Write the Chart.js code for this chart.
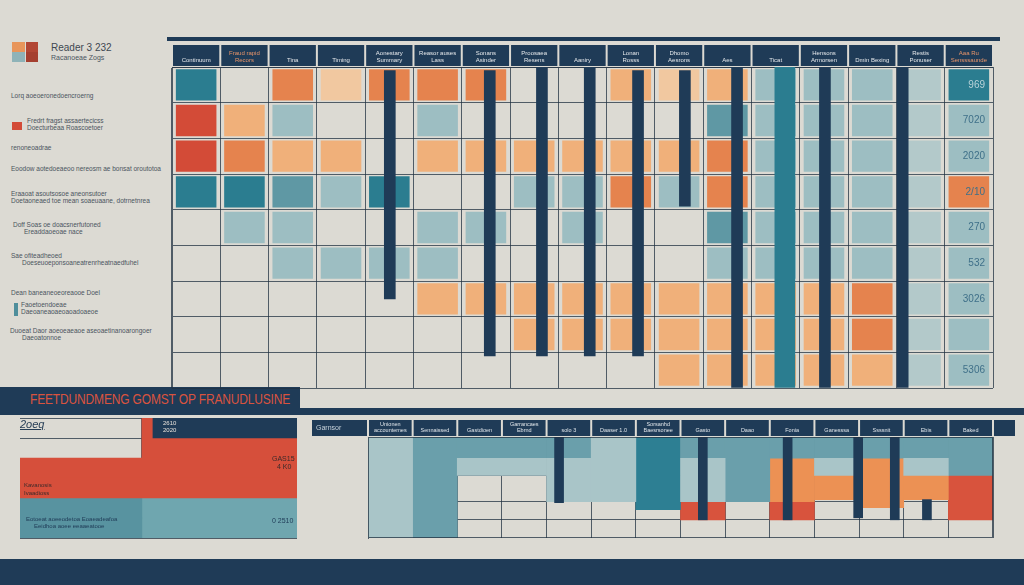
<!DOCTYPE html>
<html>
<head>
<meta charset="utf-8">
<title>Fraud Dashboard</title>
<script src="https://cdn.jsdelivr.net/npm/chart.js"></script>
<style>
  body { margin: 0; width: 1024px; height: 585px; background: #dcdad3; position: relative; overflow: hidden;
         font-family: "Liberation Sans", Arial, sans-serif; }
  .box { position: absolute; }
  .note { position: absolute; font-size: 6.5px; color: #4a545e; white-space: nowrap; }
  .navy { position: absolute; background: #1f3b57; }
</style>
</head>
<body>
<!-- left legend panel -->
<div class="box" style="left:12px;top:42px;width:13px;height:10px;background:#e8955a"></div>
<div class="box" style="left:26px;top:42px;width:12px;height:10px;background:#b24634"></div>
<div class="box" style="left:12px;top:52px;width:13px;height:10px;background:#8fb3b8"></div>
<div class="box" style="left:26px;top:52px;width:12px;height:10px;background:#a53f2f"></div>
<div class="note" style="left:51px;top:42px;font-size:10px;color:#3e4852">Reader 3 232</div>
<div class="note" style="left:51px;top:54px;font-size:7px">Racanoeae Zogs</div>
<div class="note" style="left:11px;top:92px">Lorq aoeoeronedoencroerng</div>
<div class="box" style="left:12px;top:122px;width:10px;height:8px;background:#d34b37"></div>
<div class="note" style="left:27px;top:117px">Fredrt fragst assaertecicss</div>
<div class="note" style="left:27px;top:124px">Doecturbeaa Roascoetoer</div>
<div class="note" style="left:11px;top:144px">renoneoadrae</div>
<div class="note" style="left:11px;top:165px">Eoodow aotedoeaeoo nereosm ae bonsat oroutotoa</div>
<div class="note" style="left:11px;top:190px">Eraaoat asoutsosoe aneonsutoer</div>
<div class="note" style="left:11px;top:197px">Doetaoneaed toe mean soaeuaane, dotrnetnrea</div>
<div class="note" style="left:13px;top:221px">Doff Soas oe doacsnerfutoned</div>
<div class="note" style="left:24px;top:228px">Ereaddaoeoae nace</div>
<div class="note" style="left:11px;top:252px">Sae ofiteadheoed</div>
<div class="note" style="left:22px;top:259px">Doeseuoeponsoaneatrenrheatnaedfuhel</div>
<div class="note" style="left:11px;top:289px">Dean baneaneoeoreaooe Doel</div>
<div class="box" style="left:14px;top:303px;width:4px;height:13px;background:#4f8e9b"></div>
<div class="note" style="left:21px;top:301px">Faoetoendoeae</div>
<div class="note" style="left:21px;top:308px">Daeoaneaoaeoaoadoaeoe</div>
<div class="note" style="left:10px;top:327px">Duoeat Daor aoeoeaeaoe aseoaetinanoarongoer</div>
<div class="note" style="left:22px;top:334px">Daeoatonnoe</div>

<!-- rules and title bars -->
<div class="navy" style="left:167px;top:37px;width:833px;height:4px"></div>
<div class="navy" style="left:0;top:387px;width:300px;height:22px"></div>
<div class="box" style="left:30px;top:390px;font-size:15px;color:#d9533f;white-space:nowrap;transform:scaleX(0.8);transform-origin:left top;letter-spacing:-0.2px">FEETDUNDMENG GOMST OP FRANUDLUSINE</div>
<div class="navy" style="left:0;top:408px;width:1024px;height:7px"></div>
<div class="navy" style="left:0;top:559px;width:1024px;height:26px"></div>

<!-- charts -->
<div class="box" style="left:165px;top:42px;width:835px;height:350px"><canvas id="topChart"></canvas></div>
<div class="box" style="left:0;top:416px;width:312px;height:124px"><canvas id="leftChart"></canvas></div>
<div class="box" style="left:312px;top:418px;width:703px;height:122px"><canvas id="rightChart"></canvas></div>

<!-- texts over the small charts -->
<div class="note" style="left:20px;top:418px;font-size:11px;color:#263d55;font-style:italic;text-decoration:underline">2oeq</div>
<div class="note" style="left:163px;top:420px;font-size:6px;color:#e8e2da">2610</div>
<div class="note" style="left:163px;top:427px;font-size:6px;color:#e8e2da">2020</div>
<div class="note" style="left:272px;top:455px;font-size:7px;color:#3b2a2a">GAS15</div>
<div class="note" style="left:277px;top:463px;font-size:7px;color:#3b2a2a">4 K0</div>
<div class="note" style="left:24px;top:482px;font-size:6px;color:#3b2a2a">Kavanosis</div>
<div class="note" style="left:24px;top:490px;font-size:6px;color:#3b2a2a">Ivaadioss</div>
<div class="note" style="left:26px;top:516px;font-size:6px;color:#1f3b57">Eotoeat aoeeodetoa Eoaeadeafoa</div>
<div class="note" style="left:34px;top:523px;font-size:6px;color:#1f3b57">Eeidhoa aoee eeaaeatooe</div>
<div class="note" style="left:272px;top:517px;font-size:7px;color:#1f3b57">0 2510</div>
<div class="note" style="left:316px;top:424px;font-size:7px;color:#c9d4dc">Garnsor</div>

<script>
Chart.defaults.animation = false;
Chart.defaults.font.family = '"Liberation Sans", Arial, sans-serif';

// ---- top grid chart ----
var topCols = ['Continuum', ['Fraud rapid', 'Recors'], 'Tina', 'Timing', ['Aonestary', 'Summary'],
  ['Reasor auses', 'Lass'], ['Sonans', 'Asinder'], ['Proosaea', 'Resens'], 'Aaniry', ['Lonan', 'Rosss'],
  ['Dhomo', 'Aesrons'], 'Aes', 'Ticat', ['Hensons', 'Armorsen'], 'Dmin Bexing', ['Restis', 'Ponuser'],
  ['Aaa Ru', 'Sensssaunde']];
var rowLabels = ['969', '7020', '2020', '2/10', '270', '532', '3026', '', '5306'];
// one string per row (top to bottom), one letter per column; '.' = empty cell
var cellCodes = [
  'T.OpOOO..PpPLLLST',
  'RPL..L.....MLLLSL',
  'ROPP.PPPPPPOLLLSL',
  'TTMLT..LLOLOLLLSO',
  '.LL..LL.L..MLLLSL',
  '..LLLL.....LLLLSL',
  '.....PPPPPPPPPOSL',
  '.......PPPPPPPOSL',
  '..........PPPPPSL'
];
var palette = { T: '#2b7d90', M: '#5f98a4', L: '#9dbec2', S: '#b3c9ca', R: '#d34b37',
  O: '#e5834e', P: '#f0b07a', p: '#f1c8a0' };
var stalkPos = [4.51, 6.58, 7.66, 8.65, 9.65, 10.62, 11.70, 13.52, 15.13];
var stalkSpan = [[2.5, 8.9], [0.9, 8.9], [0.9, 9], [0.9, 9], [0.9, 8.9], [5.1, 8.9], [0, 9], [0, 9], [0, 9]];
var tealStalkPos = [12.69];
var tealStalkSpan = [[0, 9]];

// ---- bottom left bands ----
var leftRows = ['head', '2020', 'band a', 'band b', 'teal a', 'teal b'];
var leftNavy = [[48, 100], null, null, null, null, null];
var leftRed = [[44, 48], [44, 100], [0, 100], [0, 100], null, null];
var leftTealDark = [null, null, null, null, [0, 44], [0, 44]];
var leftTealLight = [null, null, null, null, [44, 100], [44, 100]];

// ---- bottom right grid ----
var rightCols = [['Unionen', 'accountemes'], 'Sennaissed', 'Gastdioen', ['Garrancaes', 'Ebrnd'], 'solo 3',
  'Daaser 1.0', ['Sorsanhd', 'Baesrsonee'], 'Gasto', 'Daao', 'Fonia', 'Ganesssa', 'Ssssnit', 'Ebis', 'Baked'];
var rightLight = [[0, 100], null, [62, 79], [62, 79], [36, 79], [36, 100], null, [36, 79], null, null, [62, 79], null, [62, 79], null];
var rightMid = [null, [0, 100], [79, 100], [79, 100], [79, 100], null, null, [79, 100], [36, 100], [79, 100], [79, 100], [79, 100], [79, 100], [62, 100]];
var rightDark = [null, null, null, null, null, null, [28, 100], null, null, null, null, null, null, null];
var rightOrange = [null, null, null, null, null, null, null, null, null, [36, 79], [38, 62], [30, 79], [38, 62], null];
var rightRed = [null, null, null, null, null, null, null, [18, 36], null, [18, 36], null, null, null, [18, 62]];
var rightStalkPos = [4.28, 7.5, 9.4, 10.98, 11.8, 12.52];
var rightStalkSpan = [[35, 100], [18, 100], [18, 100], [20, 100], [18, 100], [18, 38]];

var navy = '#1f3b57';
var gridCol = 'rgba(34,50,66,0.75)';

var headerBand = {
  id: 'headerBand',
  beforeDraw: function (chart, args, opts) {
    if (!opts.height) return;
    var a = chart.chartArea, ctx = chart.ctx, x = chart.scales.x;
    var left = opts.full ? 0 : a.left, right = opts.full ? chart.width : a.right;
    ctx.save();
    ctx.fillStyle = navy;
    ctx.fillRect(left, a.top - opts.height, right - left, opts.height - 1);
    ctx.strokeStyle = '#dcdad3';
    ctx.lineWidth = 2;
    for (var i = 0; i <= x.ticks.length; i++) {
      var px = x.getPixelForValue(i - 0.5);
      ctx.beginPath();
      ctx.moveTo(px, a.top - opts.height);
      ctx.lineTo(px, a.top - 1);
      ctx.stroke();
    }
    ctx.restore();
  },
  afterDraw: function (chart, args, opts) {
    if (!opts.frame) return;
    var a = chart.chartArea, ctx = chart.ctx;
    ctx.save();
    ctx.strokeStyle = gridCol;
    ctx.lineWidth = 1;
    ctx.strokeRect(a.left + 0.5, a.top + 0.5, a.right - a.left - 1, a.bottom - a.top - 1);
    ctx.restore();
  }
};

function pin(size) {
  return function (s) { if (s.isHorizontal()) s.height = size; else s.width = size; };
}

// top chart datasets
var topSets = cellCodes.map(function (codes, r) {
  var lo = 8 - r;
  return {
    label: rowLabels[r] || 'row',
    data: topCols.map(function (c, i) { return codes[i] === '.' ? null : [lo + 0.06, lo + 0.94]; }),
    backgroundColor: topCols.map(function (c, i) { return palette[codes[i]] || 'transparent'; }),
    grouped: false,
    barPercentage: 0.84,
    categoryPercentage: 1
  };
});
topSets.push({
  label: 'teal stalks', xAxisID: 'x2', grouped: false, barThickness: 20, backgroundColor: '#2b7d90', order: -1,
  data: tealStalkPos.map(function (p, i) { return { x: p, y: tealStalkSpan[i] }; })
});
topSets.push({
  label: 'stalks', xAxisID: 'x2', grouped: false, barThickness: 11, backgroundColor: navy, order: -2,
  data: stalkPos.map(function (p, i) { return { x: p, y: stalkSpan[i] }; })
});

new Chart(document.getElementById('topChart'), {
  type: 'bar',
  data: { labels: topCols, datasets: topSets },
  options: {
    responsive: true,
    maintainAspectRatio: false,
    layout: { padding: { left: 7, right: 7, top: 3, bottom: 4 } },
    plugins: { legend: { display: false }, tooltip: { enabled: false }, headerBand: { height: 22 } },
    scales: {
      x: {
        position: 'top', afterFit: pin(22),
        grid: { color: gridCol, offset: true, drawTicks: false },
        border: { color: gridCol },
        ticks: {
          padding: 3, autoSkip: false, maxRotation: 0,
          font: { size: 6 },
          color: function (c) { return (c.index === 1 || c.index === 16) ? '#e9956a' : '#e6e9ec'; }
        }
      },
      x2: { type: 'linear', min: 0, max: topCols.length, offset: false, display: false },
      y: {
        min: 0, max: 9, afterFit: pin(0),
        ticks: { display: false, stepSize: 1 },
        grid: { color: gridCol, drawTicks: false },
        border: { color: gridCol }
      },
      y2: {
        position: 'right', min: 0, max: 9, afterFit: pin(0),
        afterBuildTicks: function (s) { s.ticks = rowLabels.map(function (l, i) { return { value: 8.5 - i }; }); },
        ticks: {
          mirror: true, padding: -8, z: 1, font: { size: 10 },
          color: function (c) { return c.index === 0 ? '#b8d2d8' : '#3f7089'; },
          callback: function (v, i) { return rowLabels[i]; }
        },
        grid: { display: false },
        border: { display: false }
      }
    }
  },
  plugins: [headerBand]
});

// bottom left chart
function flat(label, data, color) {
  return { label: label, data: data, backgroundColor: color, grouped: false, barPercentage: 1, categoryPercentage: 1 };
}
new Chart(document.getElementById('leftChart'), {
  type: 'bar',
  data: {
    labels: leftRows,
    datasets: [
      flat('header', leftNavy, navy),
      flat('red', leftRed, '#d64f3b'),
      flat('teal', leftTealDark, '#5893a0'),
      flat('teal light', leftTealLight, '#6fa6af')
    ]
  },
  options: {
    indexAxis: 'y',
    responsive: true,
    maintainAspectRatio: false,
    layout: { padding: { left: 20, right: 15, top: 2, bottom: 2 } },
    plugins: { legend: { display: false }, tooltip: { enabled: false } },
    scales: {
      x: {
        min: 0, max: 100, afterFit: pin(0),
        afterBuildTicks: function (s) { s.ticks = [{ value: 44 }, { value: 58 }]; },
        ticks: { display: false },
        grid: { color: gridCol, drawTicks: false },
        border: { display: false }
      },
      y: {
        afterFit: pin(0),
        ticks: { display: false },
        grid: { color: gridCol, offset: true, drawTicks: false },
        border: { display: false }
      }
    }
  }
});

// bottom right chart
var rightStalks = {
  label: 'stalks', xAxisID: 'x2', grouped: false, barThickness: 9, backgroundColor: navy, order: -1,
  data: rightStalkPos.map(function (p, i) { return { x: p, y: rightStalkSpan[i] }; })
};
new Chart(document.getElementById('rightChart'), {
  type: 'bar',
  data: {
    labels: rightCols,
    datasets: [
      flat('light', rightLight, '#a9c5c8'),
      flat('mid', rightMid, '#6a9fab'),
      flat('dark', rightDark, '#2d7f93'),
      flat('orange', rightOrange, '#ec9154'),
      flat('red', rightRed, '#d8533d'),
      rightStalks
    ]
  },
  options: {
    responsive: true,
    maintainAspectRatio: false,
    layout: { padding: { left: 56, right: 22, top: 2, bottom: 2 } },
    plugins: { legend: { display: false }, tooltip: { enabled: false }, headerBand: { height: 17, full: true, frame: true } },
    scales: {
      x: {
        position: 'top', afterFit: pin(17),
        grid: { color: gridCol, offset: true, drawTicks: false },
        border: { color: gridCol },
        ticks: { padding: 3, autoSkip: false, maxRotation: 0, font: { size: 5.5 }, color: '#dfe5ea' }
      },
      x2: { type: 'linear', min: 0, max: rightCols.length, offset: false, display: false },
      y: {
        min: 0, max: 100, afterFit: pin(0),
        afterBuildTicks: function (s) { s.ticks = [18, 36, 62, 79].map(function (v) { return { value: v }; }); },
        ticks: { display: false },
        grid: { color: gridCol, drawTicks: false },
        border: { color: gridCol }
      }
    }
  },
  plugins: [headerBand]
});
</script>
</body>
</html>
